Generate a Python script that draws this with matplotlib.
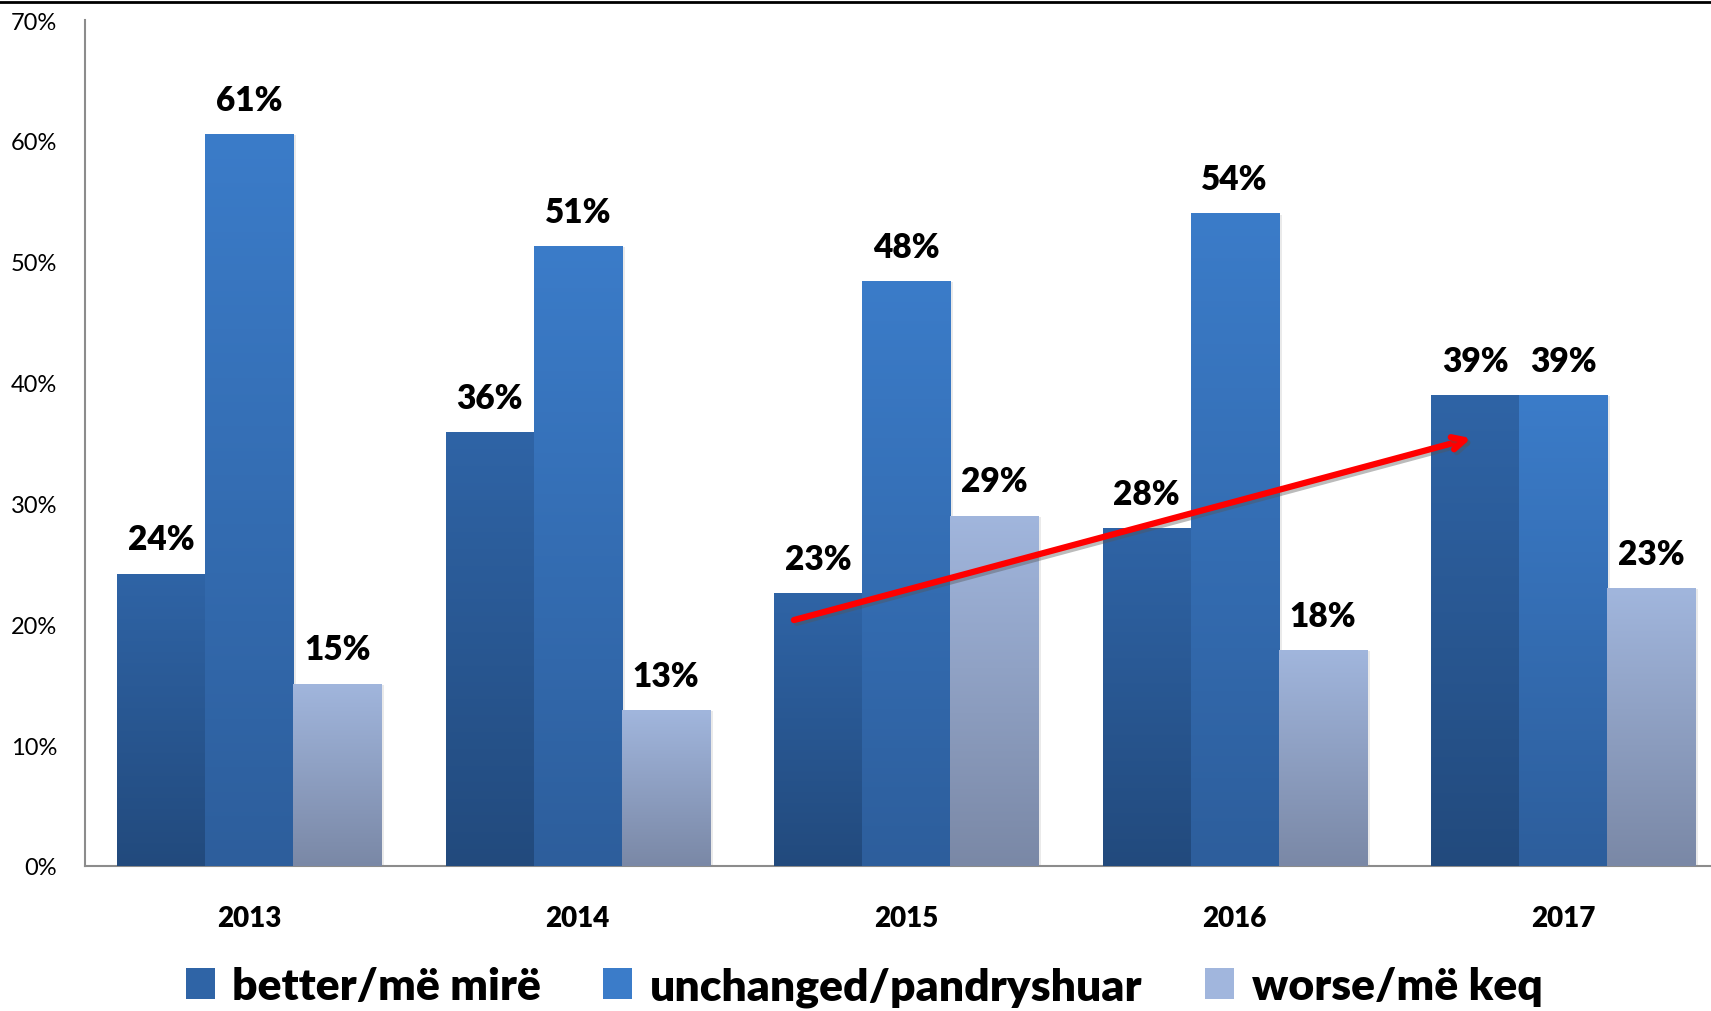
import numpy as np
import matplotlib
matplotlib.use('Agg')
import matplotlib.pyplot as plt
from matplotlib.colors import LinearSegmentedColormap
from matplotlib.patches import Patch
from matplotlib.lines import Line2D
import matplotlib.patheffects as pe

# Data
years = ['2013', '2014', '2015', '2016', '2017']
better = [24.2, 35.9, 22.6, 28.0, 39.0]
unchanged = [60.6, 51.3, 48.4, 54.0, 39.0]
worse = [15.1, 12.9, 29.0, 17.9, 23.0]
series_names = ['better/më mirë', 'unchanged/pandryshuar', 'worse/më keq']

# (top colour, bottom colour) for each series gradient
grads = [('#2F64A6', '#224A7D'), ('#3B7CC9', '#2D5E9C'), ('#A1B6DD', '#7A88A6')]

plt.rcParams['font.family'] = ['Lato', 'DejaVu Sans']

fig = plt.figure(figsize=(17.11, 10.12), dpi=100)
ax = fig.add_axes([0.0497, 0.1433, 0.9503, 0.8359])

x = np.arange(len(years))
w = 0.268
offsets = [-w, 0, w]

for vals, off, (top, bot), name in zip([better, unchanged, worse], offsets, grads, series_names):
    bars = ax.bar(x + off, vals, width=w, color=top, label=name, zorder=2,
                  path_effects=[pe.SimplePatchShadow(offset=(2, -1), shadow_rgbFace='#999999', alpha=0.2),
                                pe.Normal()])
    cmap = LinearSegmentedColormap.from_list('g', [bot, top])
    grad = np.linspace(0, 1, 256).reshape(-1, 1)
    for b, v in zip(bars, vals):
        x0 = b.get_x()
        im = ax.imshow(grad, cmap=cmap, aspect='auto', origin='lower',
                       extent=[x0, x0 + w, 0, v], zorder=3)
        im.set_clip_path(b)
        ax.annotate(f'{round(v):.0f}%', (x0 + w / 2, v), xytext=(0, 13),
                    textcoords='offset points', ha='center', va='bottom',
                    fontsize=24, fontweight='heavy', zorder=5)

ax.set_xlim(-0.5, 4.45)
ax.set_ylim(0, 70)
ax.set_yticks(range(0, 71, 10))
ax.set_yticklabels([f'{t}%' for t in range(0, 71, 10)], fontsize=17)
ax.set_xticks(x)
ax.set_xticklabels(years, fontsize=20, fontweight='heavy')
ax.tick_params(axis='both', length=0)
ax.tick_params(axis='y', pad=20)
ax.tick_params(axis='x', pad=28)
for s in ['top', 'right']:
    ax.spines[s].set_visible(False)
for s in ['left', 'bottom']:
    ax.spines[s].set_color('#8C8C8C')
    ax.spines[s].set_linewidth(1.5)
ax.spines['left'].set_bounds(0, 70)

# red trend arrow
ax.annotate('', xy=(3.72, 35.4), xytext=(1.658, 20.35),
            arrowprops=dict(arrowstyle='->,head_length=0.9,head_width=0.45', color='#FF0000', lw=4.5,
                            shrinkA=0, shrinkB=0,
                            path_effects=[pe.SimpleLineShadow(offset=(2, -2), shadow_color='#555555', alpha=0.4),
                                          pe.Normal()]),
            zorder=6)

# legend
handles = [Patch(facecolor=g[0], edgecolor='none') for g in grads]
leg = fig.legend(handles, series_names, loc='center', bbox_to_anchor=(0.505, 0.024), ncol=3,
                 frameon=False, prop={'size': 32, 'weight': 'heavy'}, handlelength=0.65,
                 handleheight=0.7, handletextpad=0.4, columnspacing=1.4)

# black line across the top
fig.add_artist(Line2D([0, 1], [0.997, 0.997], color='black', lw=2, transform=fig.transFigure))

fig.savefig('out.png', dpi=100)
